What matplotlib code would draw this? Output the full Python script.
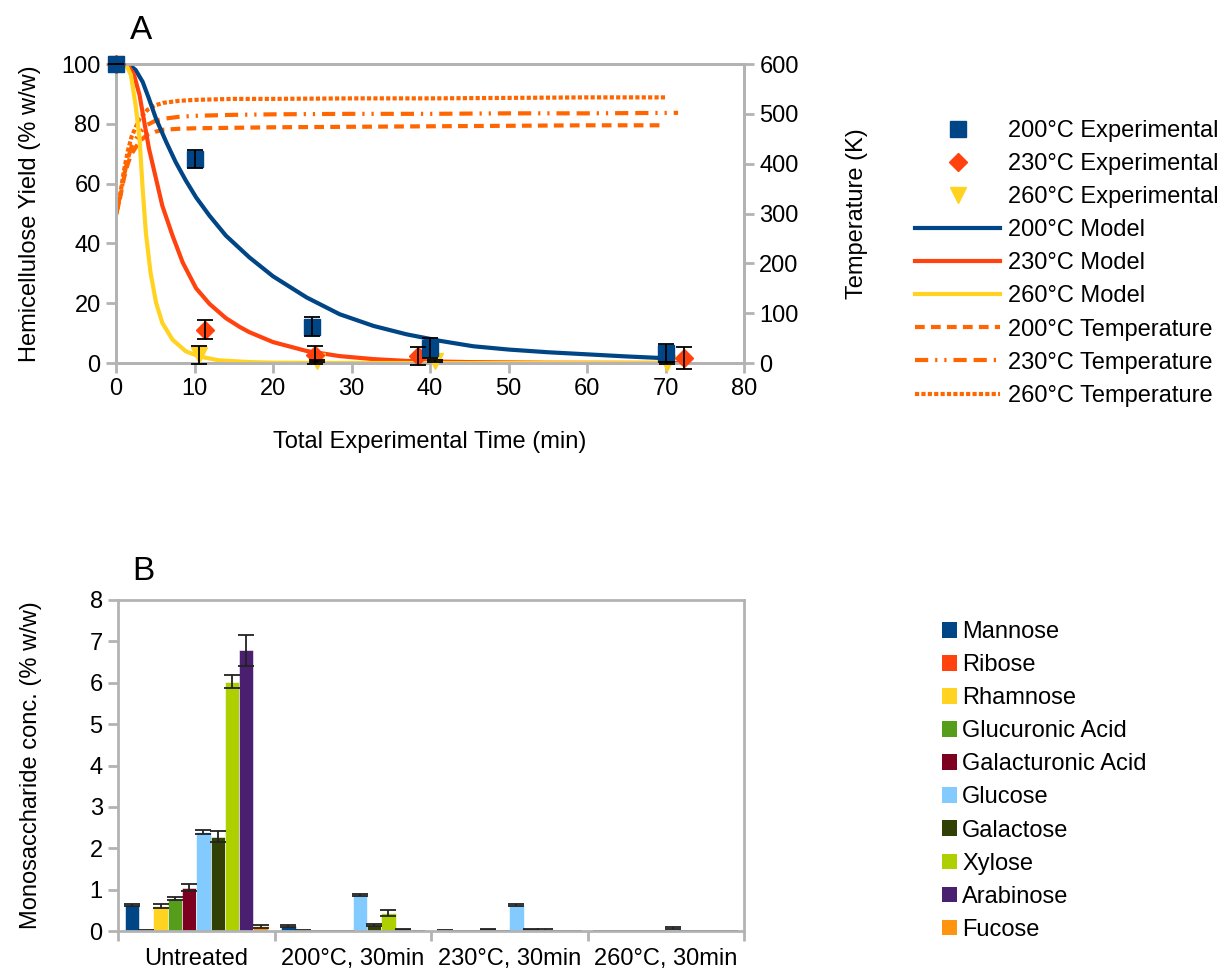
import numpy as np
import matplotlib
matplotlib.use("Agg")
import matplotlib.pyplot as plt
from matplotlib.patches import Patch

plt.rcParams['font.family'] = ['Liberation Sans', 'DejaVu Sans']
plt.rcParams['font.size'] = 17
plt.rcParams['lines.scale_dashes'] = False

# ---- A: hemicellulose yield, experiments + model, reactor temperature ----
exp_t_200 = [0, 10, 25, 40, 70]
exp_y_200 = [100, 68.2, 12.2, 5.0, 3.4]
exp_e_200 = [0, 3.0, 3.1, 3.2, 3.1]

exp_t_230 = [0, 11.3, 25.4, 38.5, 72.3]
exp_y_230 = [100, 11.1, 2.7, 2.3, 1.8]
exp_e_230 = [0, 3.2, 3.0, 3.1, 3.7]

exp_t_260 = [0, 10.6, 25.6, 40.6, 70.2]
exp_y_260 = [100, 2.8, 0.8, 0.7, 0.0]
exp_e_260 = [0, 3.0, 0.3, 0.3, 0.3]

mod_t_200 = [0, 1, 1.7, 2.5, 3.4, 4.2, 5.1, 6.4, 7.6, 8.9, 10.2, 11.9, 14, 17, 20,
             24.3, 28.5, 32.8, 37, 41.3, 45.5, 50, 55, 60, 65, 70]
mod_y_200 = [100, 100, 99.7, 98, 94, 88.4, 81.7, 73.9, 67.2, 61, 55.4, 49.3, 42.6, 35.3, 29.0,
             21.9, 16.3, 12.4, 9.6, 7.4, 5.6, 4.5, 3.6, 2.9, 2.2, 1.6]

mod_t_230 = [0, 1, 1.5, 2.3, 3.0, 3.6, 4.2, 5.1, 5.9, 7.2, 8.5, 10.2, 11.9, 14, 15.8, 17, 20,
             24.3, 28.5, 32.8, 37, 45, 55, 65, 72]
mod_y_230 = [100, 100, 99.7, 96.3, 89.6, 80.6, 71.7, 61.6, 52.6, 42.6, 33.6, 25, 19.8, 15, 12, 10.3, 7.0,
             4.0, 2.3, 1.3, 0.7, 0.3, 0.1, 0.05, 0]

mod_t_260 = [0, 1, 1.3, 1.9, 2.5, 3.0, 3.4, 3.8, 4.4, 5.1, 5.9, 7.2, 8.9, 10.6, 13.1, 17, 20,
             30, 40, 50, 60, 70]
mod_y_260 = [100, 100, 99.7, 96.3, 86.2, 75, 58.2, 43.7, 30.2, 20.2, 13.4, 7.8, 3.9, 2.2, 0.9, 0.3, 0.1,
             0, 0, 0, 0, 0]

temp_t = [0, 0.5, 1, 1.5, 2, 3, 4, 5, 6, 8, 10, 15, 20, 30, 40, 50, 60, 70]
temp_t_230 = [0, 0.5, 1, 1.5, 2, 3, 4, 5, 6, 8, 10, 15, 20, 30, 40, 50, 60, 71.6]
temp_200 = [298, 330, 370, 400, 420, 445, 458, 464, 468, 470, 471, 472, 473, 474, 475, 476, 477, 477]
temp_230 = [298, 330, 375, 410, 435, 462, 478, 486, 490, 494, 496, 498, 499, 500, 500, 501, 501, 502]
temp_260 = [298, 335, 385, 425, 455, 490, 508, 517, 522, 526, 528, 530, 530, 531, 531, 532, 533, 533]

# ---- B: monosaccharide composition ----
groups = ['Untreated', '200°C, 30min', '230°C, 30min', '260°C, 30min']
sugars = ['Mannose', 'Ribose', 'Rhamnose', 'Glucuronic Acid', 'Galacturonic Acid',
          'Glucose', 'Galactose', 'Xylose', 'Arabinose', 'Fucose']
sugar_vals = [
    [0.63, 0.12, 0.01, 0.0],
    [0.02, 0.01, 0.0, 0.0],
    [0.60, 0.0, 0.0, 0.0],
    [0.78, 0.0, 0.03, 0.0],
    [1.05, 0.0, 0.0, 0.0],
    [2.40, 0.87, 0.63, 0.07],
    [2.28, 0.14, 0.03, 0.0],
    [6.03, 0.44, 0.03, 0.0],
    [6.78, 0.03, 0.0, 0.0],
    [0.11, 0.0, 0.0, 0.0],
]
sugar_errs = [
    [0.02, 0.02, 0.01, 0.01],
    [0.01, 0.01, 0.01, 0.01],
    [0.05, 0.01, 0.01, 0.01],
    [0.03, 0.01, 0.01, 0.01],
    [0.08, 0.01, 0.01, 0.01],
    [0.05, 0.02, 0.03, 0.02],
    [0.13, 0.03, 0.01, 0.01],
    [0.15, 0.07, 0.02, 0.01],
    [0.37, 0.01, 0.01, 0.01],
    [0.03, 0.01, 0.01, 0.01],
]
sugar_colors = ['#004586', '#ff420e', '#ffd320', '#579d1c', '#7e0021',
                '#83caff', '#314004', '#aecf00', '#4b1f6f', '#ff950e']

grey = '#b3b3b3'
blue, red, yellow, orange = '#004586', '#ff420e', '#ffd320', '#ff6600'

fig = plt.figure(figsize=(12.27, 9.73), dpi=100)

ax = fig.add_axes([116 / 1227, 1 - 363 / 973, 628 / 1227, 299 / 973])
ax2 = ax.twinx()
ax.set_zorder(ax2.get_zorder() + 1)
ax.patch.set_visible(False)

# temperatures on the right axis, behind the yield curves
t1, = ax2.plot(temp_t, temp_200, color=orange, lw=3, dashes=[7, 4.5], dash_capstyle='butt')
t2, = ax2.plot(temp_t_230, temp_230, color=orange, lw=3, dashes=[9.5, 5, 1.6, 5, 1.6, 5, 9.5, 5],
               dash_capstyle='butt')
t3, = ax2.plot(temp_t, temp_260, color=orange, lw=3, dashes=[3, 1.6], dash_capstyle='butt')
ax2.set_ylim(0, 600)
ax2.set_yticks(range(0, 601, 100))
ax2.set_ylabel('Temperature (K)', labelpad=34)

m1, = ax.plot(mod_t_200, mod_y_200, color=blue, lw=3, solid_joinstyle='round')
m2, = ax.plot(mod_t_230, mod_y_230, color=red, lw=3, solid_joinstyle='round')
m3, = ax.plot(mod_t_260, mod_y_260, color=yellow, lw=3, solid_joinstyle='round')

e3, = ax.plot(exp_t_260, exp_y_260, 'v', color=yellow, ms=11, clip_on=False, zorder=4)
e2, = ax.plot(exp_t_230, exp_y_230, 'D', color=red, ms=9, clip_on=False, zorder=4)
e1, = ax.plot(exp_t_200, exp_y_200, 's', color=blue, ms=11, clip_on=False, zorder=4)
for tt, yy, ee in [(exp_t_200, exp_y_200, exp_e_200), (exp_t_230, exp_y_230, exp_e_230),
                   (exp_t_260, exp_y_260, exp_e_260)]:
    ax.errorbar(tt, yy, yerr=ee, fmt='none', ecolor='black', elinewidth=1.3,
                capsize=6, capthick=1.3, zorder=5, clip_on=False)

ax.set_xlim(0, 80)
ax.set_ylim(0, 100)
ax.set_xticks(range(0, 81, 10))
ax.set_yticks(range(0, 101, 20))
ax.set_xlabel('Total Experimental Time (min)', labelpad=22)
ax.set_ylabel('Hemicellulose Yield (% w/w)', labelpad=15)

for a in (ax, ax2):
    for s in a.spines.values():
        s.set_color(grey)
        s.set_linewidth(2)
    a.tick_params(direction='out', length=7, width=2, color=grey, labelsize=17, pad=4)

ax.text(0.04, 1.06, 'A', transform=ax.transAxes, fontsize=24, ha='center', va='bottom')

fig.legend([e1, e2, e3, m1, m2, m3, t1, t2, t3],
           ['200°C Experimental', '230°C Experimental', '260°C Experimental',
            '200°C Model', '230°C Model', '260°C Model',
            '200°C Temperature', '230°C Temperature', '260°C Temperature'],
           loc='upper left', bbox_to_anchor=(915 / 1227, 1 - 120 / 973), frameon=False,
           handlelength=3.6, handletextpad=0.35, labelspacing=0.47, borderpad=0,
           borderaxespad=0, fontsize=17)

# ---- bar chart ----
bx = fig.add_axes([118 / 1227, 42 / 973, 626 / 1227, 331 / 973])
x = np.arange(len(groups))
width = 0.0913
handles = []
for i, name in enumerate(sugars):
    pos = x - 0.5 + 0.0435 + width * (i + 0.5)
    bx.bar(pos, sugar_vals[i], width, color=sugar_colors[i], edgecolor='white', linewidth=0.4)
    bx.errorbar(pos, sugar_vals[i], yerr=sugar_errs[i], fmt='none', ecolor='#222222',
                elinewidth=1.3, capsize=6, capthick=1.3)
    handles.append(Patch(facecolor=sugar_colors[i], label=name))

bx.set_xlim(-0.5, len(groups) - 0.5)
bx.set_ylim(0, 8)
bx.set_yticks(range(0, 9))
bx.set_xticks(x)
bx.set_xticklabels(groups)
bx.set_xticks(np.arange(-0.5, len(groups)), minor=True)
bx.tick_params(axis='x', which='major', length=0, pad=12)
bx.tick_params(axis='x', which='minor', direction='out', length=7, width=2, color=grey)
bx.tick_params(axis='y', direction='out', length=7, width=2, color=grey, pad=4)
bx.tick_params(labelsize=17)
for s in bx.spines.values():
    s.set_color(grey)
    s.set_linewidth(2)
bx.set_ylabel('Monosaccharide conc. (% w/w)', labelpad=34)
bx.text(0.04, 1.04, 'B', transform=bx.transAxes, fontsize=24, ha='center', va='bottom')

fig.legend(handles=handles, loc='upper left', bbox_to_anchor=(942 / 1227, 1 - 621 / 973),
           frameon=False, handlelength=0.65, handleheight=0.65, handletextpad=0.2,
           labelspacing=0.47, borderpad=0, borderaxespad=0, fontsize=17)

fig.savefig('out.png', dpi=100)
